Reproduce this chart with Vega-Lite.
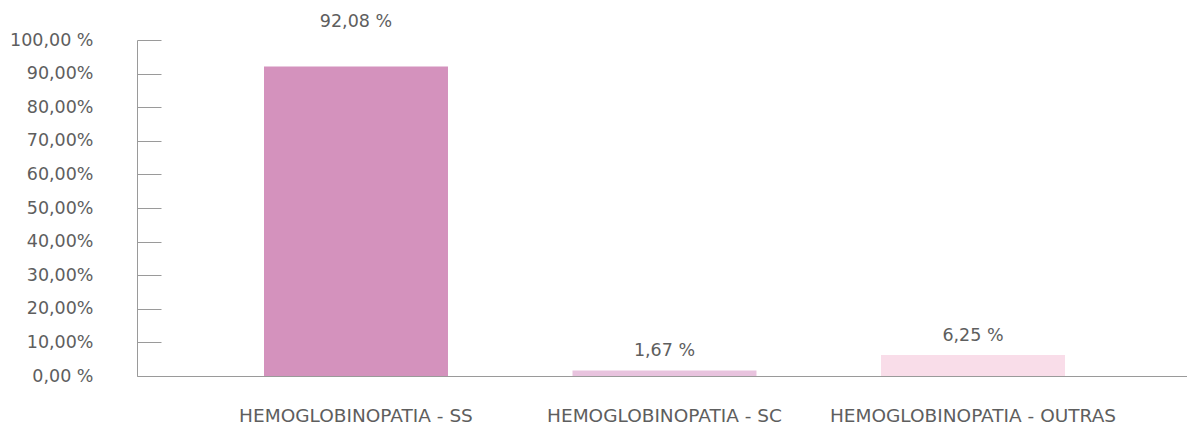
{
  "$schema": "https://vega.github.io/schema/vega-lite/v6.json",
  "autosize": "none",
  "width": 1050,
  "height": 336,
  "padding": {"left": 137, "top": 40, "right": 0, "bottom": 48},
  "background": "white",
  "config": {
    "view": {"stroke": null},
    "font": "DejaVu Sans",
    "axis": {"labelFont": "DejaVu Sans", "labelColor": "#5e5e5e", "labelFontSize": 17.5, "domainColor": "#9a9a9a", "tickColor": "#9a9a9a", "grid": false}
  },
  "data": {"values": [
    {"categoria": "HEMOGLOBINOPATIA - SS", "valor": 92.08},
    {"categoria": "HEMOGLOBINOPATIA - SC", "valor": 1.67},
    {"categoria": "HEMOGLOBINOPATIA - OUTRAS", "valor": 6.25}
  ]},
  "transform": [{"calculate": "replace(format(datum.valor, '.2f'), '.', ',') + ' %'", "as": "rotulo"}],
  "encoding": {
    "x": {"field": "categoria", "type": "nominal", "sort": null,
      "scale": {"paddingInner": 0.4036, "paddingOuter": 0.4036, "align": 0.51},
      "axis": {"title": null, "labelAngle": 0, "ticks": false, "labelBaseline": "alphabetic", "labelPadding": 45, "labelLimit": 0, "labelFontSize": 18.5, "domainWidth": 1}},
    "y": {"field": "valor", "type": "quantitative",
      "scale": {"domain": [0, 100], "nice": false},
      "axis": {"title": null, "values": [0,10,20,30,40,50,60,70,80,90,100], "tickSize": -24, "labelPadding": 68,
        "labelExpr": "datum.value == 100 ? '100,00 %' : datum.value == 0 ? '0,00 %' : replace(format(datum.value, '.2f'), '.', ',') + '%'"}}
  },
  "layer": [
    {"mark": {"type": "bar"},
     "encoding": {"color": {"field": "categoria", "type": "nominal", "sort": null, "legend": null,
       "scale": {"domain": ["HEMOGLOBINOPATIA - SS", "HEMOGLOBINOPATIA - SC", "HEMOGLOBINOPATIA - OUTRAS"], "range": ["#d492bd", "#e8c3de", "#f9dde9"]}}}},
    {"transform": [{"filter": "datum.categoria == 'HEMOGLOBINOPATIA - SS'"}],
     "mark": {"type": "text", "dy": -40, "fontSize": 17.5, "color": "#5e5e5e", "baseline": "alphabetic"},
     "encoding": {"text": {"field": "rotulo", "type": "nominal"}}},
    {"transform": [{"filter": "datum.categoria != 'HEMOGLOBINOPATIA - SS'"}],
     "mark": {"type": "text", "dy": -14, "fontSize": 17.5, "color": "#5e5e5e", "baseline": "alphabetic"},
     "encoding": {"text": {"field": "rotulo", "type": "nominal"}}}
  ]
}
